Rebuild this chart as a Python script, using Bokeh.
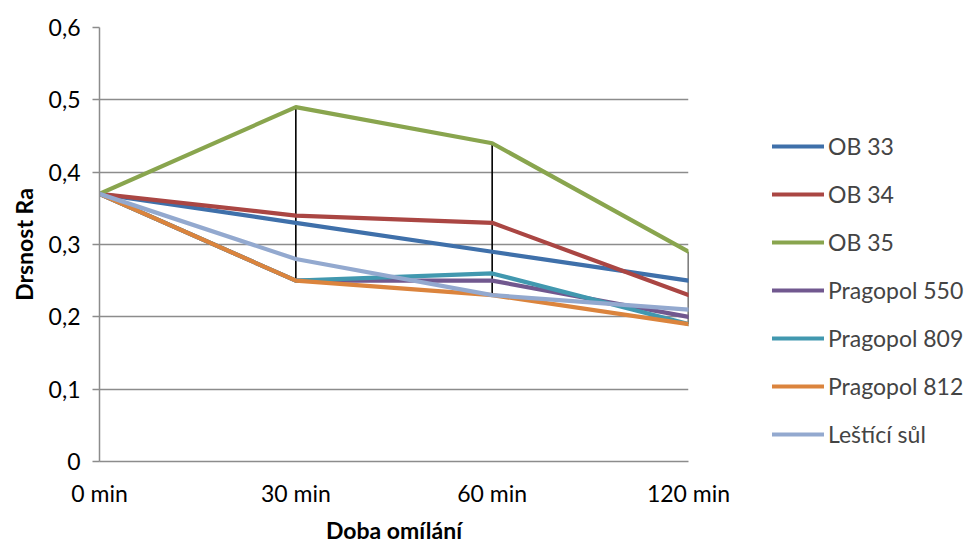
import numpy as np
from bokeh.plotting import figure
from bokeh.models import FixedTicker, Legend, LegendItem, Range1d
from bokeh.embed import file_html
from bokeh.resources import INLINE

categories = ["0 min", "30 min", "60 min", "120 min"]
series_names = ["OB 33", "OB 34", "OB 35", "Pragopol 550", "Pragopol 809", "Pragopol 812", "Leštící sůl"]
ob33 = [0.37, 0.33, 0.29, 0.25]
ob34 = [0.37, 0.34, 0.33, 0.23]
ob35 = [0.37, 0.49, 0.44, 0.29]
pragopol550 = [0.37, 0.25, 0.25, 0.20]
pragopol809 = [0.37, 0.25, 0.26, 0.19]
pragopol812 = [0.37, 0.25, 0.23, 0.19]
lestici_sul = [0.37, 0.28, 0.23, 0.21]
y_ticks = [0, 0.1, 0.2, 0.3, 0.4, 0.5, 0.6]
y_tick_labels = ["0", "0,1", "0,2", "0,3", "0,4", "0,5", "0,6"]

colors = ["#3F70AA", "#AA4643", "#89A54E", "#71588F", "#4198AF", "#DB843D", "#93A9CF"]
all_series = [ob33, ob34, ob35, pragopol550, pragopol809, pragopol812, lestici_sul]

FONT = "Lato"
FS = "23px"
p = figure(frame_width=589, frame_height=434, output_backend="svg", toolbar_location=None,
           x_range=Range1d(0, len(categories) - 1), y_range=Range1d(0, 0.6),
           min_border_left=99, min_border_right=0, min_border_top=27, min_border_bottom=84)
p.outline_line_color = None
p.background_fill_color = "white"
p.border_fill_color = "white"

x = list(range(len(categories)))

# high-low lines
arr = np.array(all_series)
hi = arr.max(axis=0)
lo = arr.min(axis=0)
p.segment(x0=x, x1=x, y0=lo, y1=hi, line_color="black", line_width=1.6)

renderers = []
for s, c in zip(all_series, colors):
    r = p.line(x, s, line_color=c, line_width=4.2, line_cap="round", line_join="round")
    renderers.append(r)

# axes
p.xaxis.ticker = FixedTicker(ticks=x)
p.xaxis.major_label_overrides = {i: c for i, c in enumerate(categories)}
p.xaxis.major_tick_line_color = None
p.xaxis.minor_tick_line_color = None
p.xaxis.axis_line_color = "#8C8C8C"
p.xaxis.axis_line_width = 1.5
p.xaxis.major_label_standoff = 11
p.xaxis.axis_label = "Doba omílání"
p.xaxis.axis_label_standoff = 6

p.yaxis.ticker = FixedTicker(ticks=y_ticks)
p.yaxis.major_label_overrides = {t: l for t, l in zip(y_ticks, y_tick_labels)}
p.yaxis.major_tick_out = 7
p.yaxis.major_tick_in = 0
p.yaxis.major_tick_line_color = "#8C8C8C"
p.yaxis.major_tick_line_width = 1.5
p.yaxis.minor_tick_line_color = None
p.yaxis.axis_line_color = "#8C8C8C"
p.yaxis.axis_line_width = 1.5
p.yaxis.major_label_standoff = 12
p.yaxis.axis_label = "Drsnost Ra"
p.yaxis.axis_label_standoff = 8

for ax in [p.xaxis, p.yaxis]:
    ax.major_label_text_font = FONT
    ax.major_label_text_font_size = FS
    ax.major_label_text_color = "black"
    ax.axis_label_text_font = FONT
    ax.axis_label_text_font_size = FS
    ax.axis_label_text_font_style = "bold"
    ax.axis_label_text_color = "black"

p.xgrid.grid_line_color = None
p.ygrid.ticker = FixedTicker(ticks=y_ticks)
p.ygrid.grid_line_color = "#8C8C8C"
p.ygrid.grid_line_width = 1.5

legend = Legend(items=[LegendItem(label=n, renderers=[r]) for n, r in zip(series_names, renderers)],
                location=(84, 13), orientation="vertical",
                glyph_width=52, glyph_height=20, label_height=20, spacing=20,
                label_standoff=4, padding=0, margin=0,
                label_text_font=FONT, label_text_font_size=FS,
                border_line_color=None, background_fill_alpha=0)
p.add_layout(legend, "right")

open("out.html", "w").write(file_html(p, INLINE))
